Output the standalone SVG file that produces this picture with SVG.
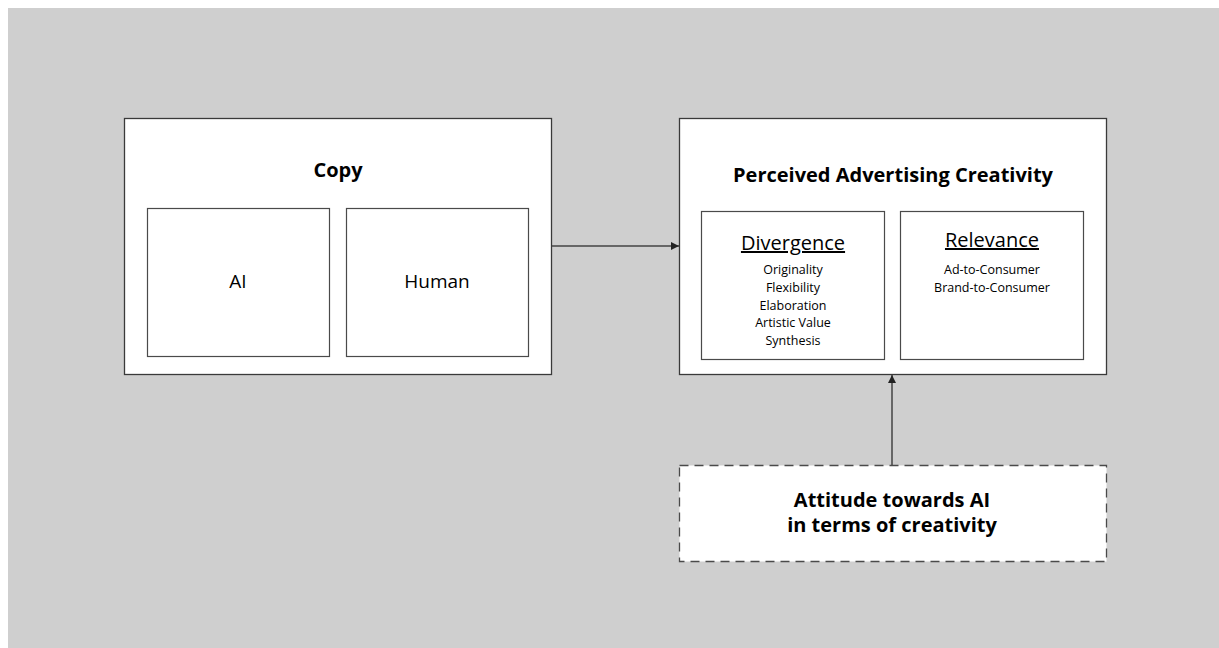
<svg xmlns="http://www.w3.org/2000/svg" width="1219" height="648" viewBox="0 0 1219 648">
<defs>
<style>
.box{fill:#fff;stroke:#3a3a3a;stroke-width:1.3}
.inner{fill:#fff;stroke:#4a4a4a;stroke-width:1.2}
.dash{fill:#fff;stroke:#4a4a4a;stroke-width:1.3;stroke-dasharray:9 6}
.t{font-family:"Open Sans","Noto Sans",sans-serif;fill:#000;text-anchor:middle}
.title{font-size:20px;font-weight:bold}
.big{font-size:19px}
.head{font-size:20px}
.small{font-size:12.5px}
.conn{stroke:#444;stroke-width:1.5;fill:none}
</style>
<marker id="arr" viewBox="0 0 10 10" refX="10" refY="5" markerWidth="8" markerHeight="8" markerUnits="userSpaceOnUse" orient="auto"><path d="M0,0 L10,5 L0,10 z" fill="#222"/></marker>
</defs>
<rect width="1219" height="648" fill="#fff"/>
<rect x="8" y="8" width="1211" height="640" fill="#cfcfcf"/>
<g id="copy">
<rect class="box" x="124.5" y="118.5" width="427" height="256"/>
<text class="t title" x="338" y="177">Copy</text>
</g>
<g id="ai">
<rect class="inner" x="147.5" y="208.5" width="182" height="148"/>
<text class="t big" x="238" y="288">AI</text>
</g>
<g id="human">
<rect class="inner" x="346.5" y="208.5" width="182" height="148"/>
<text class="t big" x="437" y="288">Human</text>
</g>
<g id="pac">
<rect class="box" x="679.5" y="118.5" width="427" height="256"/>
<text class="t title" x="893" y="182">Perceived Advertising Creativity</text>
</g>
<g id="divergence">
<rect class="inner" x="701.5" y="211.5" width="183" height="148"/>
<text class="t head" x="793" y="250" text-decoration="underline">Divergence</text>
<text class="t small" x="793" y="274">Originality</text>
<text class="t small" x="793" y="292">Flexibility</text>
<text class="t small" x="793" y="310">Elaboration</text>
<text class="t small" x="793" y="327">Artistic Value</text>
<text class="t small" x="793" y="345">Synthesis</text>
</g>
<g id="relevance">
<rect class="inner" x="900.5" y="211.5" width="183" height="148"/>
<text class="t head" x="992" y="247" text-decoration="underline">Relevance</text>
<text class="t small" x="992" y="274">Ad-to-Consumer</text>
<text class="t small" x="992" y="292">Brand-to-Consumer</text>
</g>
<g id="attitude">
<rect class="dash" x="679.5" y="465.5" width="427" height="96"/>
<text class="t title" x="892" y="507">Attitude towards AI</text>
<text class="t title" x="892" y="532">in terms of creativity</text>
</g>
<g id="connectors">
<line class="conn" x1="552" y1="246" x2="679" y2="246" marker-end="url(#arr)"/>
<line class="conn" x1="892" y1="465" x2="892" y2="375" marker-end="url(#arr)"/>
</g>
</svg>
